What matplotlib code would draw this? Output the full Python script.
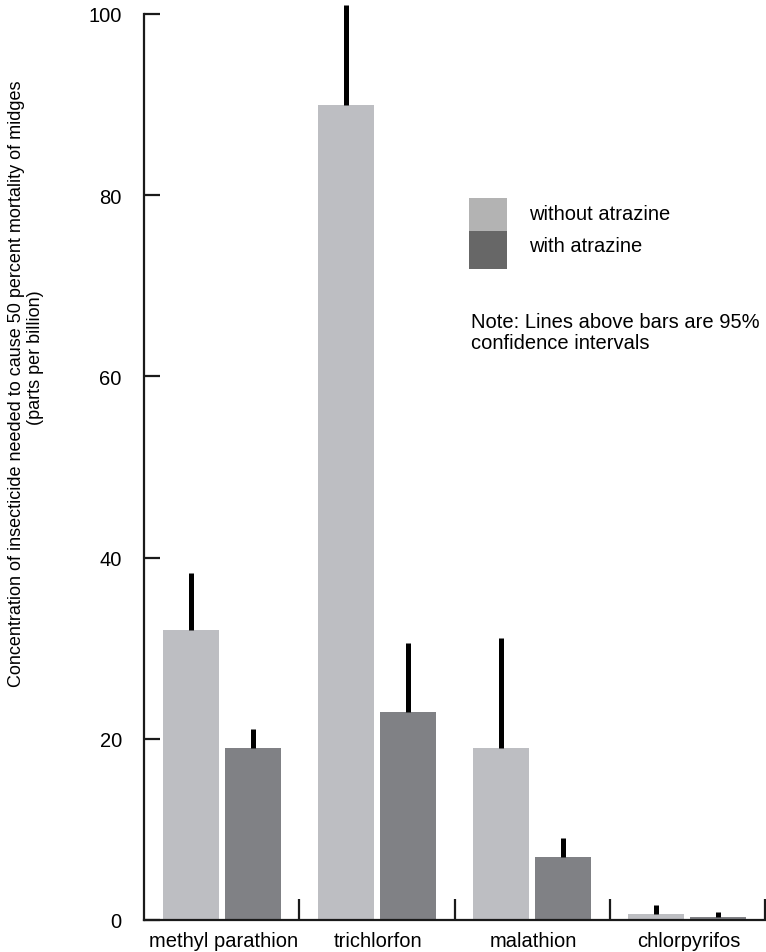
import matplotlib.pyplot as plt
from matplotlib.patches import Rectangle

plt.rcParams['font.family'] = ['Liberation Sans', 'DejaVu Sans']

# insecticide LC50 values, with and without atrazine
insecticides = ['methyl parathion', 'trichlorfon', 'malathion', 'chlorpyrifos']
without_atrazine = [32.0, 90.0, 19.0, 0.65]
without_ci_upper = [38.3, 101.0, 31.1, 1.7]
with_atrazine = [19.0, 23.0, 7.0, 0.3]
with_ci_upper = [21.1, 30.6, 9.1, 0.85]
y_ticks = [0, 20, 40, 60, 80, 100]

light = '#bdbec2'
dark = '#808185'
fs = 14.5

fig = plt.figure(figsize=(7.66, 9.53), dpi=100)
ax = fig.add_axes([144 / 766, 1 - 921 / 953, 621 / 766, 906 / 953])

bar_w = 0.36
for i in range(len(insecticides)):
    x0 = i + 0.5 - 0.2
    x1 = i + 0.5 + 0.2
    ax.bar(x0, without_atrazine[i], width=bar_w, color=light, zorder=2)
    ax.bar(x1, with_atrazine[i], width=bar_w, color=dark, zorder=2)
    # upper confidence limit drawn as a thick line from the bar top
    ax.plot([x0, x0], [without_atrazine[i], without_ci_upper[i]],
            color='black', lw=3.6, solid_capstyle='butt', clip_on=False, zorder=3)
    ax.plot([x1, x1], [with_atrazine[i], with_ci_upper[i]],
            color='black', lw=3.6, solid_capstyle='butt', clip_on=False, zorder=3)

ax.set_xlim(0, 4)
ax.set_ylim(0, 100)

for s in ['top', 'right']:
    ax.spines[s].set_visible(False)
for s in ['left', 'bottom']:
    ax.spines[s].set_linewidth(1.6)
    ax.spines[s].set_color('#1a1a1a')

ax.set_yticks(y_ticks)
ax.set_yticklabels([str(v) for v in y_ticks], fontsize=fs)
ax.tick_params(axis='y', direction='in', length=11.5, width=1.6,
               color='#1a1a1a', pad=16)

# group separators as upward ticks, labels centred under each group
ax.set_xticks([1, 2, 3, 4], minor=True)
ax.tick_params(axis='x', which='minor', direction='in', length=15, width=1.6,
               color='#1a1a1a')
ax.set_xticks([i + 0.51 for i in range(len(insecticides))])
ax.set_xticklabels(insecticides, fontsize=fs)
ax.tick_params(axis='x', which='major', length=0, pad=8)

# y axis title, two lines placed individually
fig.text(17 / 766, 1 - 384 / 953,
         'Concentration of insecticide needed to cause 50 percent mortality of midges',
         rotation=90, ha='center', va='center', fontsize=13)
fig.text(35 / 766, 1 - 358 / 953, '(parts per billion)',
         rotation=90, ha='center', va='center', fontsize=13)

# legend swatches
ax_leg = fig.add_axes([0, 0, 1, 1], facecolor='none')
ax_leg.set_xlim(0, 766)
ax_leg.set_ylim(953, 0)
ax_leg.axis('off')
ax_leg.add_patch(Rectangle((469, 199), 38, 33, color='#b3b3b3', lw=0))
ax_leg.add_patch(Rectangle((469, 232), 38, 38, color='#676767', lw=0))
ax_leg.text(529, 215, 'without atrazine', fontsize=fs, va='center')
ax_leg.text(529, 247, 'with atrazine', fontsize=fs, va='center')
ax_leg.text(471, 333, 'Note: Lines above bars are 95%\nconfidence intervals',
            fontsize=fs, va='center', linespacing=1.1)

plt.savefig('out.png', dpi=100)
